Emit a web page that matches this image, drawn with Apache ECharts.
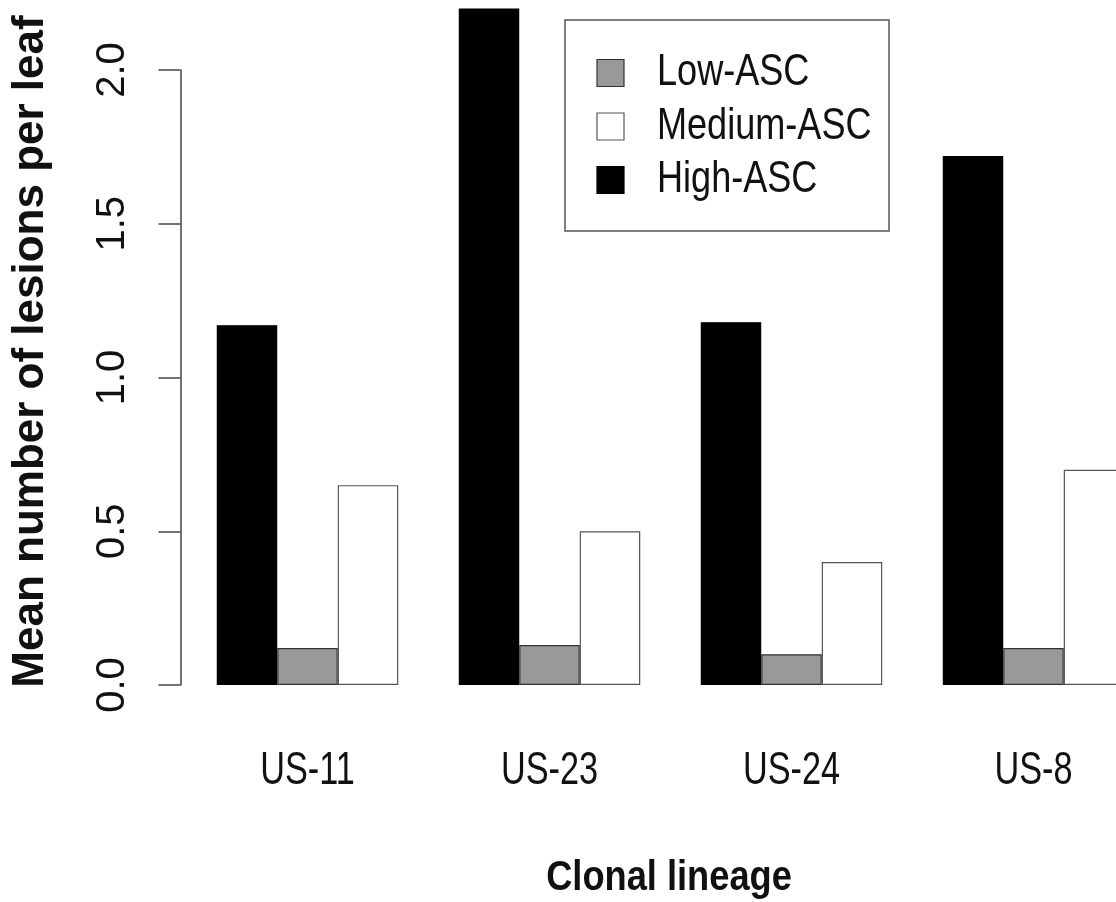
<!DOCTYPE html>
<html>
<head>
<meta charset="utf-8">
<title>Mean number of lesions per leaf by clonal lineage</title>
<script src="https://cdn.jsdelivr.net/npm/echarts@6/dist/echarts.min.js"></script>
<style>
  html, body { margin: 0; padding: 0; background: #fff; }
  #chart { width: 1116px; height: 902px; }
</style>
</head>
<body>
<div id="chart"></div>
<script>
// Clonal lineages on the x axis
const lineages = ['US-11', 'US-23', 'US-24', 'US-8'];

// Mean lesions per leaf for each aggressiveness (ASC) class
const highASC = [1.17, 2.20, 1.18, 1.72];
const lowASC = [0.12, 0.13, 0.10, 0.12];
const mediumASC = [0.65, 0.50, 0.40, 0.70];

// Y axis tick values
const yTicks = [0, 0.5, 1.0, 1.5, 2.0];

// Legend entries, in display order
const legendNames = ['Low-ASC', 'Medium-ASC', 'High-ASC'];

const font = "'Liberation Sans', Arial, Helvetica, sans-serif";
const ink = '#111';

const styles = {
  'High-ASC': { fill: '#000', border: '#000' },
  'Low-ASC': { fill: '#999', border: '#333' },
  'Medium-ASC': { fill: '#fff', border: '#555' }
};

const chart = echarts.init(document.getElementById('chart'), null, { renderer: 'canvas' });

function barSeries(name, data) {
  return {
    name: name,
    type: 'bar',
    data: data,
    clip: false,
    barGap: '0%',
    barCategoryGap: '25%',
    itemStyle: { color: styles[name].fill, borderColor: styles[name].border, borderWidth: 1.2 },
    emphasis: { disabled: true }
  };
}

chart.setOption({
  backgroundColor: '#fff',
  animation: false,
  // plotting band is wider than the page; the last group runs off the right edge
  grid: {
    left: 186.5, width: 968, top: 70, bottom: 217,
    containLabel: false,
    outerBoundsMode: 'none'
  },
  xAxis: {
    type: 'category',
    data: lineages,
    axisLine: { show: false },
    axisTick: { show: false },
    axisLabel: { show: false }
  },
  yAxis: {
    type: 'value',
    min: 0,
    max: 2.0,
    interval: 0.5,
    offset: 6,
    splitLine: { show: false },
    axisLine: { show: true, lineStyle: { color: '#444', width: 1.5 } },
    axisTick: { show: true, length: 22, lineStyle: { color: '#444', width: 1.5 } },
    axisLabel: {
      rotate: 90,
      margin: 48,
      fontFamily: font,
      fontSize: 40,
      color: ink,
      formatter: function (v) { return yTicks.indexOf(v) >= 0 ? v.toFixed(1) : ''; }
    },
    name: 'Mean number of lesions per leaf',
    nameLocation: 'middle',
    nameRotate: 90,
    nameGap: 128,
    nameTextStyle: {
      fontFamily: font, fontWeight: 'bold', fontSize: 44, color: ink,
      padding: [0, 0, 0, 52]
    }
  },
  series: [
    barSeries('High-ASC', highASC),
    barSeries('Low-ASC', lowASC),
    barSeries('Medium-ASC', mediumASC)
  ]
});

// Condensed horizontal text: regular face squeezed along x
function condensedText(str, x, y, size, squeeze, weight, align) {
  return {
    type: 'text',
    x: x,
    y: y,
    scaleX: squeeze,
    scaleY: 1,
    silent: true,
    style: {
      text: str,
      fontFamily: font,
      fontSize: size,
      fontWeight: weight || 'normal',
      fill: ink,
      align: align || 'center',
      verticalAlign: 'middle'
    }
  };
}

const graphics = [];

// Category labels placed at the category centres of the x axis
lineages.forEach(function (name) {
  const px = chart.convertToPixel({ xAxisIndex: 0 }, name);
  graphics.push(condensedText(name, px, 771, 46, 0.745));
});

// Axis title
graphics.push(condensedText('Clonal lineage', 669, 878, 42, 0.863, 'bold'));

// Legend box
const legendItems = [];
legendItems.push({
  type: 'rect',
  shape: { x: 0, y: 0, width: 324, height: 211 },
  style: { fill: '#fff', stroke: '#555', lineWidth: 1.5 }
});
legendNames.forEach(function (name, i) {
  const cy = 53 + i * 53.5;
  legendItems.push({
    type: 'rect',
    shape: { x: 32, y: cy - 13.5, width: 27, height: 27 },
    style: { fill: styles[name].fill, stroke: styles[name].border, lineWidth: 1.2 }
  });
  legendItems.push(condensedText(name, 92, cy, 44, 0.82, 'normal', 'left'));
});
graphics.push({ type: 'group', x: 565, y: 20, silent: true, children: legendItems });

chart.setOption({ graphic: graphics });
</script>
</body>
</html>
